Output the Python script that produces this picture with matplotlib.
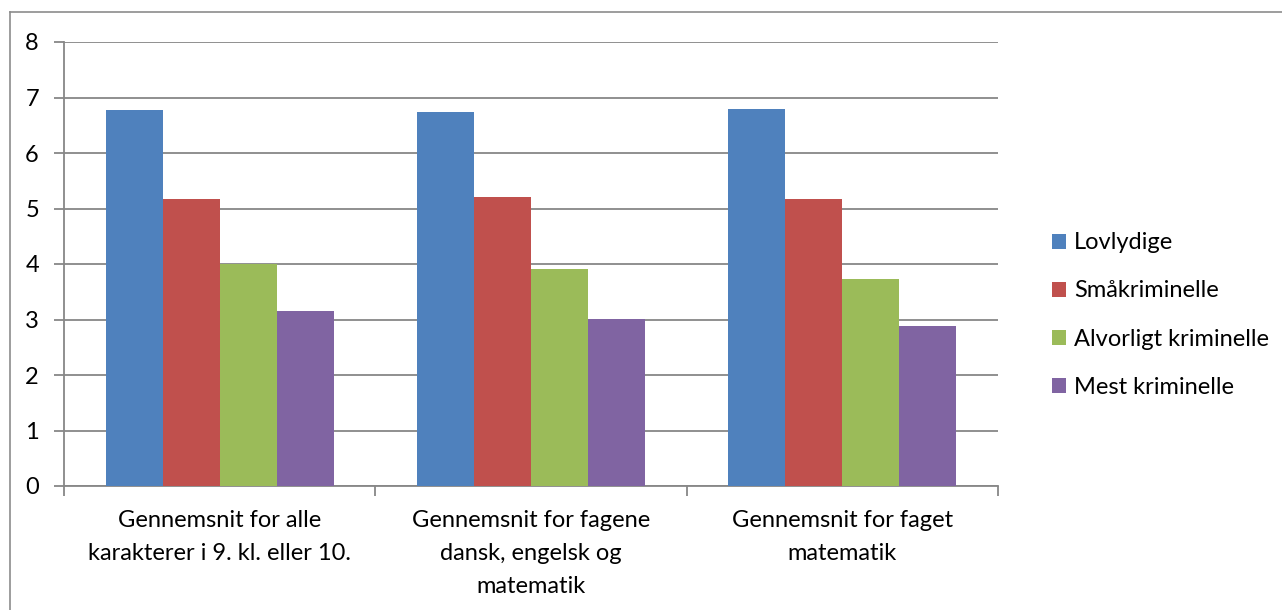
import matplotlib
matplotlib.use("Agg")
import matplotlib.pyplot as plt
import numpy as np

categories = ["Gennemsnit for alle\nkarakterer i 9. kl. eller 10.",
              "Gennemsnit for fagene\ndansk, engelsk og\nmatematik",
              "Gennemsnit for faget\nmatematik"]
series_names = ["Lovlydige", "Småkriminelle", "Alvorligt kriminelle", "Mest kriminelle"]
lovlydige = [6.77, 6.74, 6.79]
smaakriminelle = [5.17, 5.21, 5.17]
alvorligt = [4.00, 3.91, 3.73]
mest = [3.15, 3.01, 2.88]
yticks = [0, 1, 2, 3, 4, 5, 6, 7, 8]

colors = ["#4F81BD", "#C0504D", "#9BBB59", "#8064A2"]
values = [lovlydige, smaakriminelle, alvorligt, mest]

plt.rcParams['font.family'] = ['Lato', 'DejaVu Sans']
FS = 17

fig = plt.figure(figsize=(12.82, 6.10), dpi=100)
W, H = 1282, 610
ax = fig.add_axes([64 / W, 1 - 486 / H, (998 - 64) / W, (486 - 42) / H])

x = np.arange(len(categories))
bw = 0.183
for i, (vals, c, name) in enumerate(zip(values, colors, series_names)):
    ax.bar(x + (i - 1.5) * bw, vals, width=bw, color=c, label=name, zorder=3)

ax.set_xlim(-0.5, len(categories) - 0.5)
ax.set_ylim(0, 8)
ax.set_yticks(yticks)
ax.set_yticklabels([str(t) for t in yticks], fontsize=FS)
ax.grid(axis='y', color='#878787', linewidth=1.3, zorder=0)
ax.set_xticks(np.arange(len(categories) + 1) - 0.5)
ax.set_xticklabels([])
ax.set_xticks(x, minor=True)
ax.set_xticklabels(categories, minor=True, fontsize=FS, linespacing=1.72)
ax.tick_params(axis='x', which='minor', length=0, pad=17)
ax.tick_params(axis='x', which='major', length=7, color='#878787', width=1.3)
ax.tick_params(axis='y', length=7, color='#878787', width=1.3, pad=11)
for s in ['top', 'right']:
    ax.spines[s].set_visible(False)
for s in ['left', 'bottom']:
    ax.spines[s].set_color('#878787')
    ax.spines[s].set_linewidth(1.3)

leg = ax.legend(loc='center left', bbox_to_anchor=(1.035, 0.385), frameon=False,
                fontsize=FS, handlelength=0.6, handleheight=0.6,
                handletextpad=0.35, labelspacing=1.15)

# outer frame
fig.add_artist(plt.Line2D([10 / W, 1.0], [1 - 12 / H, 1 - 12 / H], color='#8c8c8c', linewidth=1.2))
fig.add_artist(plt.Line2D([10 / W, 10 / W], [0, 1 - 12 / H], color='#8c8c8c', linewidth=1.2))

fig.savefig("out.png", dpi=100, facecolor='white')
